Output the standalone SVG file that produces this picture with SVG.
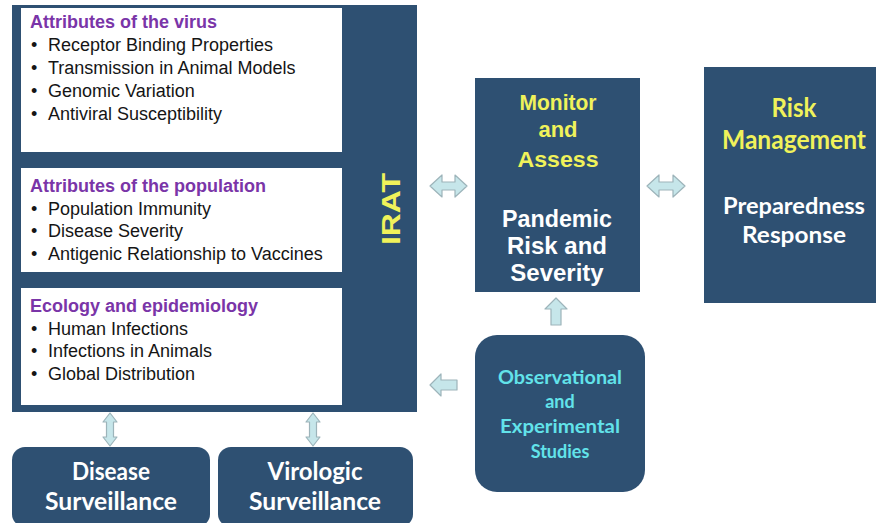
<svg xmlns="http://www.w3.org/2000/svg" width="876" height="523" viewBox="0 0 876 523">
<style>
.dark{fill:#2e5072}
.white{fill:#ffffff}
.hd{font-family:"Liberation Sans",Arial,sans-serif;font-weight:bold;font-size:18px;fill:#7a35a8}
.it{font-family:"Liberation Sans",Arial,sans-serif;font-size:18px;fill:#151515}
.yel{fill:#f0f25a}
.wt{fill:#ffffff}
.cy{fill:#62e3ea}
.ar{font-family:"Liberation Sans",Arial,sans-serif;font-weight:bold}
.ca{font-family:Lato,"Open Sans",sans-serif;font-weight:bold}
.arrow{fill:#c6e6ea;stroke:#9db4ba;stroke-width:1.2;stroke-linejoin:round}
</style>
<rect width="876" height="523" fill="#ffffff"/>

<g id="irat">
  <rect class="dark" x="12" y="5" width="405" height="407"/>
  <text class="ar yel" font-size="26" text-anchor="middle" textLength="72" lengthAdjust="spacingAndGlyphs" transform="translate(400,209) rotate(-90)">IRAT</text>
</g>

<g id="virus">
  <rect class="white" x="21" y="8" width="321" height="144"/>
  <text class="hd" x="30" y="28">Attributes of the virus</text>
  <text class="it" x="31" y="51">•</text><text class="it" x="48" y="51">Receptor Binding Properties</text>
  <text class="it" x="31" y="74">•</text><text class="it" x="48" y="74">Transmission in Animal Models</text>
  <text class="it" x="31" y="97">•</text><text class="it" x="48" y="97">Genomic Variation</text>
  <text class="it" x="31" y="120">•</text><text class="it" x="48" y="120">Antiviral Susceptibility</text>
</g>

<g id="population">
  <rect class="white" x="21" y="168" width="321" height="104"/>
  <text class="hd" x="30" y="192">Attributes of the population</text>
  <text class="it" x="31" y="215">•</text><text class="it" x="48" y="215">Population Immunity</text>
  <text class="it" x="31" y="237">•</text><text class="it" x="48" y="237">Disease Severity</text>
  <text class="it" x="31" y="260">•</text><text class="it" x="48" y="260">Antigenic Relationship to Vaccines</text>
</g>

<g id="ecology">
  <rect class="white" x="21" y="288" width="321" height="117"/>
  <text class="hd" x="30" y="312">Ecology and epidemiology</text>
  <text class="it" x="31" y="335">•</text><text class="it" x="48" y="335">Human Infections</text>
  <text class="it" x="31" y="357">•</text><text class="it" x="48" y="357">Infections in Animals</text>
  <text class="it" x="31" y="380">•</text><text class="it" x="48" y="380">Global Distribution</text>
</g>

<g id="monitor">
  <rect class="dark" x="475" y="78" width="165" height="214"/>
  <text class="ar yel" font-size="22" x="558" y="110" text-anchor="middle" textLength="77" lengthAdjust="spacingAndGlyphs">Monitor</text>
  <text class="ar yel" font-size="22" x="558" y="137" text-anchor="middle">and</text>
  <text class="ar yel" font-size="22" x="558" y="167" text-anchor="middle" textLength="81" lengthAdjust="spacingAndGlyphs">Assess</text>
  <text class="ar wt" font-size="24" x="557" y="227" text-anchor="middle" textLength="110" lengthAdjust="spacingAndGlyphs">Pandemic</text>
  <text class="ar wt" font-size="24" x="557" y="254" text-anchor="middle">Risk and</text>
  <text class="ar wt" font-size="24" x="557" y="281" text-anchor="middle">Severity</text>
</g>

<g id="risk">
  <rect class="dark" x="704" y="67" width="180" height="236"/>
  <text class="ca yel" font-size="26" x="794" y="117" text-anchor="middle" textLength="45" lengthAdjust="spacingAndGlyphs">Risk</text>
  <text class="ca yel" font-size="26" x="794" y="149" text-anchor="middle" textLength="144" lengthAdjust="spacingAndGlyphs">Management</text>
  <text class="ca wt" font-size="23" x="794" y="214" text-anchor="middle" textLength="142" lengthAdjust="spacingAndGlyphs">Preparedness</text>
  <text class="ca wt" font-size="23" x="794" y="243" text-anchor="middle" textLength="104" lengthAdjust="spacingAndGlyphs">Response</text>
</g>

<g id="studies">
  <rect class="dark" x="475" y="335" width="170" height="157" rx="22" ry="22"/>
  <text class="ca cy" font-size="18" x="560" y="384" text-anchor="middle" textLength="124" lengthAdjust="spacingAndGlyphs">Observational</text>
  <text class="ca cy" font-size="18" x="560" y="408" text-anchor="middle">and</text>
  <text class="ca cy" font-size="18" x="560" y="433" text-anchor="middle" textLength="120" lengthAdjust="spacingAndGlyphs">Experimental</text>
  <text class="ca cy" font-size="18" x="560" y="458" text-anchor="middle">Studies</text>
</g>

<g id="disease">
  <rect class="dark" x="12" y="447" width="198" height="80" rx="13" ry="13"/>
  <text class="ca wt" font-size="25" x="111" y="480" text-anchor="middle" textLength="78" lengthAdjust="spacingAndGlyphs">Disease</text>
  <text class="ca wt" font-size="25" x="111" y="510" text-anchor="middle" textLength="132" lengthAdjust="spacingAndGlyphs">Surveillance</text>
</g>

<g id="virologic">
  <rect class="dark" x="218" y="447" width="195" height="80" rx="13" ry="13"/>
  <text class="ca wt" font-size="25" x="315" y="480" text-anchor="middle" textLength="95" lengthAdjust="spacingAndGlyphs">Virologic</text>
  <text class="ca wt" font-size="25" x="315" y="510" text-anchor="middle" textLength="132" lengthAdjust="spacingAndGlyphs">Surveillance</text>
</g>

<g id="connectors">
  <path class="arrow" d="M430,186 L442,175 L442,182 L455,182 L455,175 L467,186 L455,197 L455,190 L442,190 L442,197 Z"/>
  <path class="arrow" d="M647,186 L659,175 L659,182 L673,182 L673,175 L685,186 L673,197 L673,190 L659,190 L659,197 Z"/>
  <path class="arrow" d="M556,298 L567,309 L561,309 L561,325 L551,325 L551,309 L545,309 Z"/>
  <path class="arrow" d="M430,385 L441,374 L441,380 L457,380 L457,390 L441,390 L441,396 Z"/>
  <path class="arrow" d="M110,413 L117,422 L113.5,422 L113.5,437 L117,437 L110,446 L103,437 L106.5,437 L106.5,422 L103,422 Z"/>
  <path class="arrow" d="M313,413 L320,422 L316.5,422 L316.5,437 L320,437 L313,446 L306,437 L309.5,437 L309.5,422 L306,422 Z"/>
</g>
</svg>
